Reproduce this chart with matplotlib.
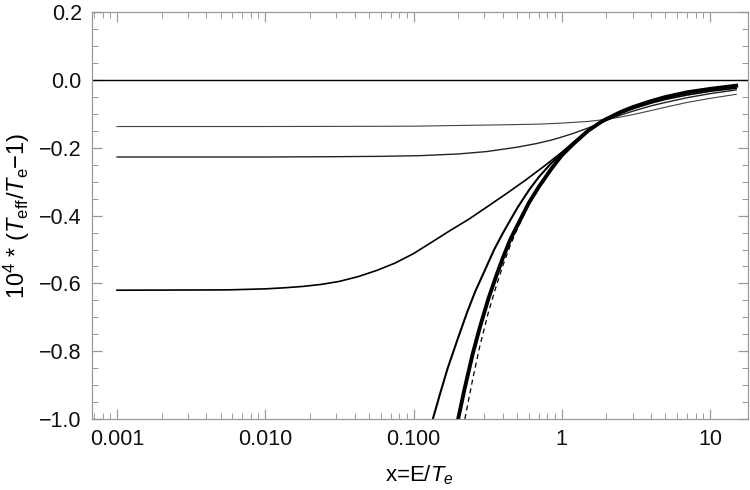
import matplotlib
matplotlib.use("Agg")
import matplotlib.pyplot as plt
from matplotlib.ticker import LogLocator, FixedLocator, FuncFormatter, MultipleLocator

plt.rcParams['font.family'] = ['Liberation Sans', 'DejaVu Sans']
plt.rcParams['mathtext.fontset'] = 'custom'
plt.rcParams['mathtext.rm'] = 'Liberation Sans'
plt.rcParams['mathtext.it'] = 'Liberation Sans:italic'

## curves (x = E/Te, y = 1e4*(Teff/Te - 1))
x_flat1 = [0.001, 0.01, 0.05, 0.1, 0.2, 0.4, 0.7, 1.0, 1.5, 2.0, 2.5, 3.0, 4.0, 5.0, 7.0, 10.0, 15.0]
y_flat1 = [-0.137, -0.137, -0.1365, -0.136, -0.134, -0.132, -0.130, -0.127, -0.122, -0.116, -0.109,
           -0.102, -0.090, -0.080, -0.066, -0.054, -0.042]

x_flat2 = [0.001, 0.01, 0.03, 0.06, 0.11, 0.2, 0.31, 0.5, 0.68, 0.85, 1.0, 1.2, 1.47, 1.82, 2.0, 2.5,
           3.0, 4.0, 5.0, 7.0, 10.0, 15.0]
y_flat2 = [-0.227, -0.227, -0.226, -0.225, -0.223, -0.218, -0.211, -0.198, -0.187, -0.177, -0.168,
           -0.157, -0.143, -0.127, -0.119, -0.103, -0.092, -0.076, -0.066, -0.052, -0.040, -0.029]

x_flat3 = [0.001, 0.00562, 0.01, 0.0133, 0.0178, 0.0237, 0.0316, 0.0422, 0.0562, 0.075, 0.1, 0.133,
           0.178, 0.237, 0.316, 0.42, 0.562, 0.75, 1.0, 1.2, 1.5, 2.0, 2.5, 3.0, 4.0, 5.0, 7.0, 10.0, 15.0]
y_flat3 = [-0.620, -0.619, -0.616, -0.613, -0.609, -0.603, -0.594, -0.580, -0.562, -0.540, -0.512,
           -0.478, -0.443, -0.410, -0.373, -0.336, -0.297, -0.256, -0.213, -0.183, -0.148, -0.117,
           -0.098, -0.085, -0.068, -0.057, -0.044, -0.033, -0.024]

x_steep = [0.135, 0.15, 0.17, 0.2, 0.23, 0.26, 0.3, 0.35, 0.4, 0.5, 0.6, 0.7, 0.85, 1.0, 1.2, 1.5,
           2.0, 2.5, 3.0, 4.0, 5.0, 7.0, 10.0, 15.0]
y_steep = [-1.0, -0.93, -0.85, -0.76, -0.685, -0.625, -0.565, -0.50, -0.452, -0.378, -0.325, -0.286,
           -0.245, -0.217, -0.186, -0.149, -0.116, -0.096, -0.082, -0.064, -0.052, -0.038, -0.028, -0.019]

x_thick = [0.2, 0.22, 0.25, 0.28, 0.32, 0.36, 0.4, 0.45, 0.5, 0.6, 0.7, 0.85, 1.0, 1.2, 1.5, 1.86,
           2.0, 2.5, 3.0, 4.0, 5.0, 7.0, 10.0, 15.0]
y_thick = [-1.0, -0.915, -0.81, -0.73, -0.645, -0.58, -0.525, -0.47, -0.43, -0.362, -0.315, -0.262,
           -0.222, -0.188, -0.150, -0.122, -0.115, -0.094, -0.080, -0.062, -0.050, -0.036, -0.026, -0.0165]

x_dash = [0.222, 0.25, 0.28, 0.32, 0.36, 0.4, 0.45, 0.5, 0.6, 0.7, 0.85, 1.0, 1.2, 1.5, 1.86, 2.0,
          2.5, 3.0, 4.0, 5.0, 7.0, 10.0, 15.0]
y_dash = [-1.0, -0.885, -0.785, -0.685, -0.61, -0.548, -0.487, -0.44, -0.368, -0.318, -0.263, -0.225,
          -0.189, -0.150, -0.122, -0.115, -0.094, -0.080, -0.062, -0.050, -0.036, -0.026, -0.0165]

fig = plt.figure(figsize=(7.5, 4.9), dpi=100)
ax = fig.add_axes([0.122, 0.1449, 0.8747, 0.830])

ax.axhline(0.0, color='black', lw=1.0)
ax.plot(x_flat1, y_flat1, color='#444444', lw=0.8)
ax.plot(x_flat2, y_flat2, color='#222222', lw=1.0)
ax.plot(x_flat3, y_flat3, color='black', lw=1.2)
ax.plot(x_steep, y_steep, color='black', lw=1.5)
ax.plot(x_thick, y_thick, color='black', lw=2.8)
ax.plot(x_dash, y_dash, color='black', lw=0.9, dashes=(4, 3))

ax.set_xscale('log')
ax.set_xlim(6.73e-4, 17.9)
ax.set_ylim(-1.0, 0.2)

ax.xaxis.set_major_locator(FixedLocator([0.001, 0.01, 0.1, 1, 10]))
ax.xaxis.set_minor_locator(LogLocator(base=10, subs=range(2, 10), numticks=20))
labels = {0.001: '0.001', 0.01: '0.010', 0.1: '0.100', 1: '1', 10: '10'}
ax.xaxis.set_major_formatter(FuncFormatter(lambda v, p: labels.get(round(v, 4), '')))
ax.xaxis.set_minor_formatter(FuncFormatter(lambda v, p: ''))

ax.yaxis.set_major_locator(MultipleLocator(0.2))
ax.yaxis.set_minor_locator(MultipleLocator(0.05))
ax.yaxis.set_major_formatter(FuncFormatter(lambda v, p: ('%.1f' % v).replace('-', '\u2212')))

for s in ax.spines.values():
    s.set_color('#999999')
    s.set_linewidth(0.9)

ax.tick_params(which='both', direction='in', top=True, right=True, color='#999999',
               labelsize=15.5, labelcolor='#111111')
ax.tick_params(which='major', length=7, width=0.9, pad=7)
ax.tick_params(which='minor', length=4, width=0.7)

ax.set_xlabel(r'x=E/$T_e$', fontsize=16, labelpad=10)
ax.set_ylabel(r'$10^4$ * ($T_{\mathrm{eff}}$/$T_{\mathrm{e}}$$-$1)', fontsize=17, labelpad=5)

fig.savefig('out.png', dpi=100)
